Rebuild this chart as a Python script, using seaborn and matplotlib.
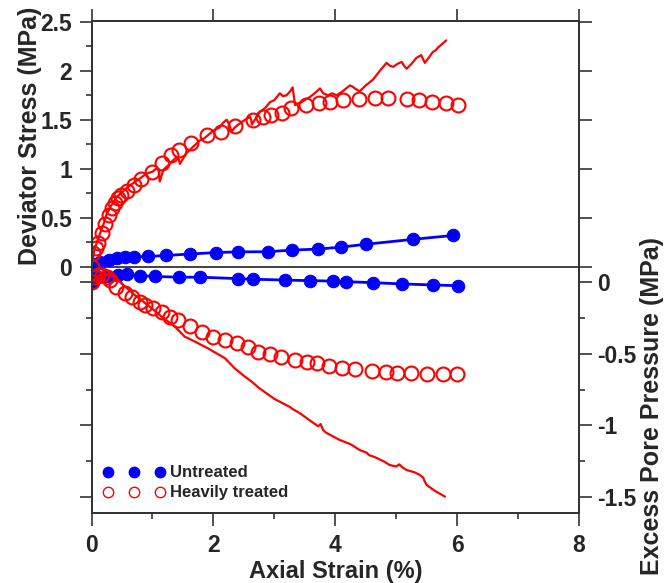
import matplotlib
matplotlib.use("Agg")
import matplotlib.pyplot as plt
import seaborn as sns
from matplotlib.lines import Line2D
from matplotlib.ticker import FixedLocator

sns.set_style("ticks")
plt.rcParams["font.family"] = ["Liberation Sans", "DejaVu Sans"]
plt.rcParams["font.weight"] = "bold"

# ── Data ──────────────────────────────────────────────────
# Untreated: deviator stress (MPa)
unt_q_x = [0.0, 0.06, 0.14, 0.28, 0.42, 0.55, 0.70, 0.93, 1.23, 1.61, 2.05, 2.41,
           2.89, 3.29, 3.71, 4.09, 4.51, 5.28, 5.94]
unt_q_y = [0.0, 0.03, 0.05, 0.065, 0.086, 0.10, 0.10, 0.105, 0.115, 0.13, 0.145, 0.152,
           0.153, 0.17, 0.18, 0.20, 0.23, 0.28, 0.32]

# Untreated: excess pore pressure (MPa)
unt_u_x = [0.0, 0.1, 0.25, 0.44, 0.58, 0.80, 1.04, 1.44, 1.78, 2.41, 2.65, 3.18,
           3.58, 3.96, 4.18, 4.62, 5.10, 5.61, 6.01]
unt_u_y = [0.0, 0.03, 0.04, 0.045, 0.05, 0.04, 0.035, 0.03, 0.03, 0.02, 0.016, 0.01,
           0.006, 0.003, -0.001, -0.008, -0.017, -0.024, -0.029]

# Heavily treated: deviator stress, sampled points
ht_q_x = [0.0, 0.03, 0.07, 0.11, 0.17, 0.22, 0.28, 0.33, 0.39, 0.44, 0.49, 0.58,
          0.69, 0.82, 0.99, 1.15, 1.31, 1.44, 1.64, 1.89, 2.13, 2.35, 2.65, 2.82,
          2.95, 3.12, 3.28, 3.52, 3.73, 3.91, 4.13, 4.39, 4.65, 4.87, 5.17, 5.37,
          5.59, 5.82, 6.01]
ht_q_y = [0.0, 0.137, 0.19, 0.24, 0.34, 0.44, 0.53, 0.60, 0.65, 0.70, 0.73, 0.77,
          0.83, 0.90, 0.97, 1.06, 1.14, 1.19, 1.26, 1.34, 1.38, 1.44, 1.50, 1.53,
          1.55, 1.57, 1.62, 1.65, 1.67, 1.68, 1.70, 1.71, 1.72, 1.72, 1.71, 1.70,
          1.68, 1.67, 1.65]

# Heavily treated: deviator stress, raw trace
ht_q_line_x = [0.0, 0.05, 0.10, 0.14, 0.20, 0.25, 0.32, 0.41, 0.50, 0.63, 0.75, 0.90,
               1.00, 1.06, 1.10, 1.12, 1.15, 1.18, 1.25, 1.33, 1.40, 1.43, 1.45, 1.50,
               1.56, 1.66, 1.78, 1.85, 2.00, 2.10, 2.16, 2.22, 2.26, 2.30, 2.35, 2.43,
               2.52, 2.60, 2.62, 2.63, 2.70, 2.76, 2.85, 2.93, 3.00, 3.09, 3.14, 3.20,
               3.26, 3.30, 3.32, 3.34, 3.40, 3.45, 3.52, 3.58, 3.66, 3.75, 3.78, 3.80,
               3.88, 3.95, 4.02, 4.12, 4.24, 4.28, 4.32, 4.40, 4.50, 4.62, 4.72, 4.84,
               4.90, 4.95, 5.02, 5.09, 5.13, 5.17, 5.25, 5.33, 5.41, 5.44, 5.47, 5.53,
               5.60, 5.65, 5.69, 5.75, 5.82]
ht_q_line_y = [0.0, 0.18, 0.27, 0.34, 0.44, 0.54, 0.62, 0.71, 0.76, 0.83, 0.88, 0.95,
               0.97, 1.00, 0.99, 0.87, 0.93, 0.99, 1.03, 1.08, 1.12, 1.10, 1.05, 1.10,
               1.16, 1.22, 1.29, 1.31, 1.39, 1.42, 1.47, 1.50, 1.45, 1.38, 1.42, 1.46,
               1.50, 1.53, 1.50, 1.45, 1.52, 1.58, 1.62, 1.68, 1.70, 1.77, 1.74, 1.75,
               1.79, 1.83, 1.74, 1.65, 1.67, 1.68, 1.71, 1.73, 1.77, 1.82, 1.79, 1.77,
               1.75, 1.77, 1.75, 1.79, 1.85, 1.84, 1.82, 1.79, 1.85, 1.91, 1.99, 2.08,
               2.05, 2.04, 2.07, 2.09, 2.05, 2.02, 2.07, 2.13, 2.16, 2.12, 2.08, 2.13,
               2.19, 2.21, 2.24, 2.27, 2.31]

# Heavily treated: excess pore pressure, sampled points
ht_u_x = [0.0, 0.05, 0.11, 0.18, 0.25, 0.30, 0.41, 0.55, 0.66, 0.80, 0.88, 1.01,
          1.15, 1.29, 1.42, 1.61, 1.81, 2.00, 2.19, 2.38, 2.57, 2.73, 2.93, 3.11,
          3.34, 3.53, 3.70, 3.90, 4.11, 4.32, 4.60, 4.83, 5.01, 5.25, 5.50, 5.77, 6.00]
ht_u_y = [0.0, 0.03, 0.045, 0.045, 0.033, 0.01, -0.036, -0.082, -0.105, -0.14, -0.163,
          -0.186, -0.21, -0.244, -0.267, -0.309, -0.349, -0.383, -0.406, -0.429, -0.453,
          -0.487, -0.503, -0.522, -0.545, -0.557, -0.568, -0.585, -0.603, -0.61, -0.622,
          -0.626, -0.633, -0.638, -0.642, -0.645, -0.645]

# Heavily treated: excess pore pressure, raw trace
ht_u_line_x = [0.0, 0.17, 0.39, 0.49, 0.71, 0.99, 1.15, 1.37, 1.53, 1.70, 1.91, 2.19,
               2.35, 2.50, 2.63, 2.75, 2.85, 3.00, 3.09, 3.25, 3.30, 3.42, 3.60, 3.72,
               3.76, 3.80, 3.85, 4.07, 4.25, 4.40, 4.52, 4.55, 4.65, 4.80, 4.89, 5.00,
               5.05, 5.10, 5.17, 5.30, 5.39, 5.44, 5.47, 5.50, 5.62, 5.80]
ht_u_line_y = [0.0, 0.057, 0.033, -0.013, -0.094, -0.186, -0.244, -0.314, -0.383,
               -0.418, -0.464, -0.533, -0.603, -0.655, -0.696, -0.74, -0.77, -0.815,
               -0.835, -0.87, -0.885, -0.915, -0.97, -1.005, -0.99, -1.031, -1.05,
               -1.10, -1.13, -1.17, -1.19, -1.205, -1.22, -1.25, -1.274, -1.285, -1.27,
               -1.29, -1.309, -1.325, -1.344, -1.36, -1.39, -1.413, -1.45, -1.494]

legend_labels = ["Untreated", "Heavily treated"]

BLUE = "#0000ff"
RED = "#ff0000"
SPINE = "#333333"

fig = plt.figure(figsize=(6.66, 5.83), dpi=100)
ax = fig.add_axes([0.1374, 0.12, 0.732, 0.8444])
ax2 = ax.twinx()

# ── Deviator stress (left axis) ───────────────────────────
sns.lineplot(x=unt_q_x, y=unt_q_y, ax=ax, color=BLUE, linewidth=2, marker="o",
             markersize=9, markeredgecolor=BLUE, sort=False, estimator=None)
sns.lineplot(x=ht_q_line_x, y=ht_q_line_y, ax=ax, color=RED, linewidth=1.6,
             sort=False, estimator=None)
sns.lineplot(x=ht_q_x, y=ht_q_y, ax=ax, color=RED, linestyle="", marker="o",
             markersize=10, markerfacecolor="none", markeredgecolor=RED,
             markeredgewidth=1.5, sort=False, estimator=None)
ax.axhline(0, color=SPINE, linewidth=1.3, zorder=1)

# ── Excess pore pressure (right axis) ─────────────────────
sns.lineplot(x=unt_u_x, y=unt_u_y, ax=ax2, color=BLUE, linewidth=2, marker="o",
             markersize=9, markeredgecolor=BLUE, sort=False, estimator=None)
sns.lineplot(x=ht_u_line_x, y=ht_u_line_y, ax=ax2, color=RED, linewidth=1.6,
             sort=False, estimator=None)
sns.lineplot(x=ht_u_x, y=ht_u_y, ax=ax2, color=RED, linestyle="", marker="o",
             markersize=10, markerfacecolor="none", markeredgecolor=RED,
             markeredgewidth=1.5, sort=False, estimator=None)

# ── Axes, ticks ───────────────────────────────────────────
ax.set_xlim(0, 8)
ax.set_ylim(-2.513, 2.51)
ax2.set_ylim(-1.608, 1.811)

ax.xaxis.set_major_locator(FixedLocator([0, 2, 4, 6, 8]))
ax.xaxis.set_minor_locator(FixedLocator([1, 3, 5, 7]))
ax.yaxis.set_major_locator(FixedLocator([0, 0.5, 1, 1.5, 2, 2.5]))
ax.yaxis.set_minor_locator(FixedLocator([0.25, 0.75, 1.25, 1.75, 2.25]))
ax.set_yticklabels(["0", "0.5", "1", "1.5", "2", "2.5"])
ax2.yaxis.set_major_locator(FixedLocator([0, -0.5, -1, -1.5]))
ax2.yaxis.set_minor_locator(FixedLocator([-0.25, -0.75, -1.25]))
ax2.set_yticklabels(["0", "-0.5", "-1", "-1.5"])

ax.tick_params(axis="both", which="both", direction="out", color=SPINE,
               width=1.2, labelsize=16.5)
ax.tick_params(which="major", length=9)
ax.tick_params(which="minor", length=4.5)
ax.tick_params(axis="x", top=True, bottom=True, labeltop=False, pad=6)
ax.tick_params(axis="y", left=True, right=True, labelleft=True, labelright=False, pad=5)
ax2.tick_params(axis="y", which="both", direction="out", color=SPINE, width=1.2,
                left=True, right=True, labelleft=False, labelright=True,
                labelsize=16.5, pad=4)
ax2.tick_params(which="major", length=9)
ax2.tick_params(which="minor", length=4.5)

for a in (ax, ax2):
    for s in a.spines.values():
        s.set_color(SPINE)
        s.set_linewidth(1.3)

ax.set_xlabel("Axial Strain (%)", fontsize=17, fontweight="bold")
ax.set_ylabel("Deviator Stress (MPa)", fontsize=18, fontweight="bold")
ax2.set_ylabel("Excess Pore Pressure (MPa)", fontsize=18, fontweight="bold")
ax.xaxis.set_label_coords(0.5, -0.095)
ax.yaxis.set_label_coords(-0.1015, 0.767)
ax2.yaxis.set_label_coords(1.125, 0.217)

# ── Legend ────────────────────────────────────────────────
handles = [
    Line2D([], [], linestyle="", marker="o", markersize=7.5, color=BLUE),
    Line2D([], [], linestyle="", marker="o", markersize=7.5, markerfacecolor="none",
           markeredgecolor=RED, markeredgewidth=1.0),
]
ax2.legend(handles, legend_labels, numpoints=3, loc="lower left",
           bbox_to_anchor=(0.0, 0.002), frameon=False, handlelength=3.72,
           handletextpad=0.3, labelspacing=0.3, borderpad=0.2,
           prop={"size": 12, "weight": "bold"})

fig.savefig("out.png", dpi=100)
